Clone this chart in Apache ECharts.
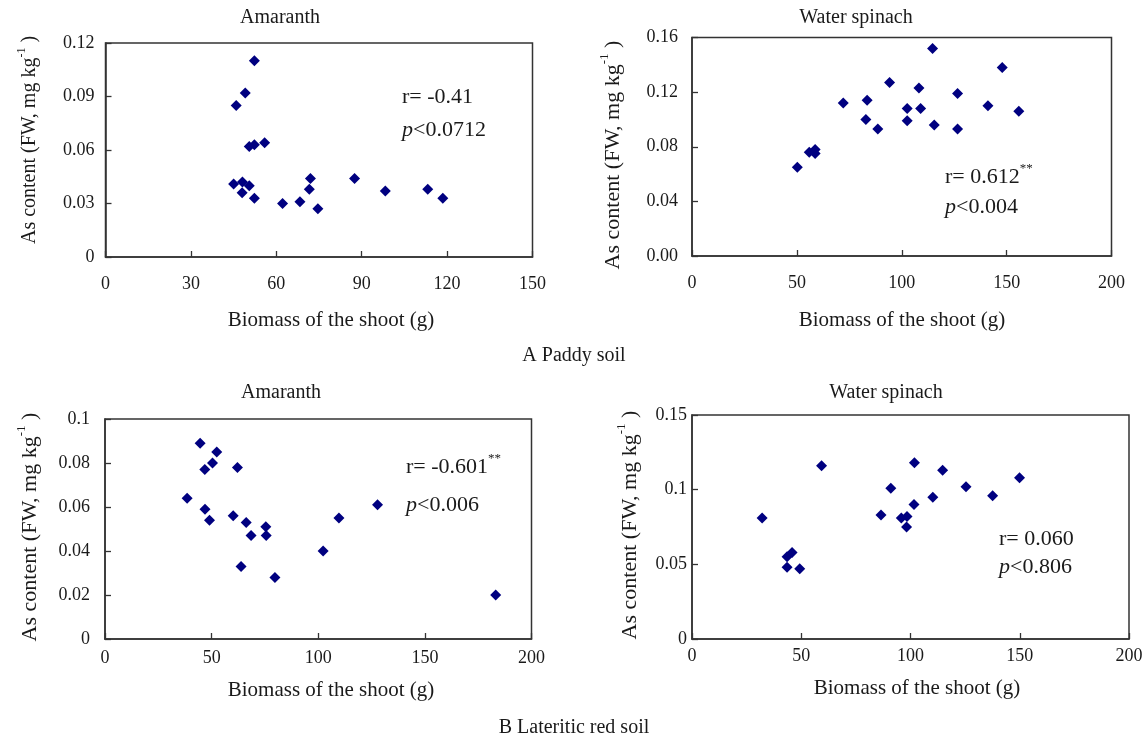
<!DOCTYPE html>
<html>
<head>
<meta charset="utf-8">
<title>As content vs. shoot biomass</title>
<script src="https://cdn.jsdelivr.net/npm/echarts@6/dist/echarts.min.js"></script>
<style>
  html, body { margin: 0; padding: 0; background: #ffffff; }
  #chart { width: 1147px; height: 739px; }
</style>
</head>
<body>
<div id="chart"></div>
<script>
// Shoot biomass (g) vs. As content (FW, mg kg-1), one [biomass, As] pair per plant
const paddyAmaranth = [
  [52.3, 0.110], [49.1, 0.092], [45.9, 0.085], [50.5, 0.062], [52.3, 0.063],
  [55.9, 0.064], [45.0, 0.041], [48.1, 0.042], [50.5, 0.040], [48.0, 0.036],
  [52.3, 0.033], [62.2, 0.030], [68.3, 0.031], [72.0, 0.044], [71.6, 0.038],
  [74.6, 0.027], [87.5, 0.044], [98.3, 0.037], [113.2, 0.038], [118.5, 0.033]
];
const paddySpinach = [
  [114.7, 0.152], [147.9, 0.138], [94.2, 0.127], [108.2, 0.123], [126.6, 0.119],
  [72.1, 0.112], [83.5, 0.114], [141.1, 0.110], [102.6, 0.108], [109.0, 0.108],
  [155.8, 0.106], [82.9, 0.100], [102.6, 0.099], [115.5, 0.096], [88.6, 0.093],
  [126.6, 0.093], [55.9, 0.076], [58.7, 0.078], [58.7, 0.075], [50.2, 0.065]
];
const redAmaranth = [
  [44.6, 0.089], [52.4, 0.085], [50.4, 0.080], [46.8, 0.077], [62.1, 0.078],
  [38.5, 0.064], [46.9, 0.059], [49.0, 0.054], [60.1, 0.056], [66.2, 0.053],
  [75.4, 0.051], [68.5, 0.047], [75.6, 0.047], [63.8, 0.033], [79.7, 0.028],
  [102.3, 0.040], [109.7, 0.055], [127.8, 0.061], [183.2, 0.020]
];
const redSpinach = [
  [32.1, 0.081], [59.3, 0.116], [43.5, 0.055], [45.8, 0.058], [43.5, 0.048],
  [49.3, 0.047], [86.5, 0.083], [91.0, 0.101], [95.8, 0.081], [98.4, 0.082],
  [98.2, 0.075], [101.8, 0.118], [101.6, 0.090], [110.2, 0.095], [114.7, 0.113],
  [125.4, 0.102], [137.6, 0.096], [149.9, 0.108]
];

// Panel titles, captions and statistics
const crops = ['Amaranth', 'Water spinach', 'Amaranth', 'Water spinach'];
const soils = ['A Paddy soil', 'B Lateritic red soil'];
const rValues = ['-0.41', '0.612', '-0.601', '0.060'];
const rStars = ['', '**', '**', ''];
const pValues = ['0.0712', '0.004', '0.006', '0.806'];

// Axis ranges: [min, max, interval]
const xRanges = [[0, 150, 30], [0, 200, 50], [0, 200, 50], [0, 200, 50]];
const yRanges = [[0, 0.12, 0.03], [0, 0.16, 0.04], [0, 0.1, 0.02], [0, 0.15, 0.05]];

const xName = 'Biomass of the shoot (g)';
const yNameMain = 'As content (FW, mg kg';
const yNameSup = '-1';

const SERIF = '"Liberation Serif", "Times New Roman", serif';
const INK = '#1a1a1a';
const FRAME = '#333333';
const MARK = '#000080';

const grids = [
  { left: 105.5, top: 43, width: 427, height: 214 },
  { left: 692, top: 37.5, width: 419.5, height: 218.5 },
  { left: 105, top: 419, width: 426.5, height: 220 },
  { left: 692, top: 415, width: 437, height: 224 }
];
const xLabelMargin = [18, 18, 10, 8];
const yLabelMargin = [11, 14, 15, 5];
const yDecimals = [null, 2, null, null];

const panels = [paddyAmaranth, paddySpinach, redAmaranth, redSpinach];

const option = {
  animation: false,
  backgroundColor: '#ffffff',
  grid: grids.map(g => Object.assign({
    show: true, borderColor: FRAME, borderWidth: 1.5, backgroundColor: 'transparent'
  }, g)),
  xAxis: xRanges.map((r, i) => ({
    type: 'value', gridIndex: i, min: r[0], max: r[1], interval: r[2],
    axisLine: { show: true, onZero: false, lineStyle: { color: FRAME, width: 1.5 } },
    axisTick: { show: true, inside: true, length: 6, lineStyle: { color: FRAME, width: 1.3 } },
    axisLabel: { margin: xLabelMargin[i], color: INK, fontFamily: SERIF, fontSize: 18 },
    splitLine: { show: false }
  })),
  yAxis: yRanges.map((r, i) => ({
    type: 'value', gridIndex: i, min: r[0], max: r[1], interval: r[2],
    axisLine: { show: true, onZero: false, lineStyle: { color: FRAME, width: 1.5 } },
    axisTick: { show: true, inside: true, length: 6, lineStyle: { color: FRAME, width: 1.3 } },
    axisLabel: {
      margin: yLabelMargin[i], color: INK, fontFamily: SERIF, fontSize: 18,
      formatter: v => yDecimals[i] != null ? v.toFixed(yDecimals[i]) : String(+v.toFixed(4))
    },
    splitLine: { show: false }
  })),
  series: panels.map((d, i) => ({
    type: 'scatter', xAxisIndex: i, yAxisIndex: i,
    symbol: 'diamond', symbolSize: 11,
    itemStyle: { color: MARK, opacity: 1 },
    emphasis: { disabled: true },
    data: d
  })),
  graphic: []
};

// Titles, axis names, captions and correlation notes
const titlePos = [[280, 18], [856, 18], [281, 393], [886, 393]];
const xNamePos = [[331, 320], [902, 320], [331, 690], [917, 688]];
const yNamePos = [[28, 140, 20], [611, 155, 22], [28, 527, 22], [628, 525, 22]];
const notePos = [[402, 95, 130], [945, 175, 207], [406, 465, 505], [999, 537, 567]];
const captionPos = [[574, 356], [574, 728]];

const g = option.graphic;
crops.forEach((c, i) => {
  g.push({ type: 'text', x: titlePos[i][0], y: titlePos[i][1],
    style: { text: c, font: '20px ' + SERIF, fill: INK, align: 'center', verticalAlign: 'middle' } });
  g.push({ type: 'text', x: xNamePos[i][0], y: xNamePos[i][1],
    style: { text: xName, font: '21px ' + SERIF, fill: INK, align: 'center', verticalAlign: 'middle' } });
  const fs = yNamePos[i][2];
  g.push({ type: 'text', x: yNamePos[i][0], y: yNamePos[i][1], rotation: Math.PI / 2,
    style: {
      text: '{m|' + yNameMain + '}{s|' + yNameSup + '}{m| )}',
      align: 'center', verticalAlign: 'middle',
      rich: {
        m: { fontFamily: SERIF, fontSize: fs, fill: INK, lineHeight: fs + 4, verticalAlign: 'bottom' },
        s: { fontFamily: SERIF, fontSize: Math.round(fs * 0.6), fill: INK, verticalAlign: 'top' }
      }
    } });
  g.push({ type: 'text', x: notePos[i][0], y: notePos[i][1],
    style: {
      text: '{m|r= ' + rValues[i] + '}' + (rStars[i] ? '{s|' + rStars[i] + '}' : ''),
      align: 'left', verticalAlign: 'middle',
      rich: {
        m: { fontFamily: SERIF, fontSize: 22, fill: INK, lineHeight: 26, verticalAlign: 'bottom' },
        s: { fontFamily: SERIF, fontSize: 13, fill: INK, verticalAlign: 'top' }
      }
    } });
  g.push({ type: 'text', x: notePos[i][0], y: notePos[i][2],
    style: {
      text: '{i|p}{m|<' + pValues[i] + '}',
      align: 'left', verticalAlign: 'middle',
      rich: {
        i: { fontFamily: SERIF, fontSize: 22, fontStyle: 'italic', fill: INK },
        m: { fontFamily: SERIF, fontSize: 22, fill: INK }
      }
    } });
});
soils.forEach((s, i) => {
  g.push({ type: 'text', x: captionPos[i][0], y: captionPos[i][1],
    style: { text: s, font: '20px ' + SERIF, fill: INK, align: 'center', verticalAlign: 'middle' } });
});

const chart = echarts.init(document.getElementById('chart'), null, { renderer: 'canvas' });
chart.setOption(option);
</script>
</body>
</html>
